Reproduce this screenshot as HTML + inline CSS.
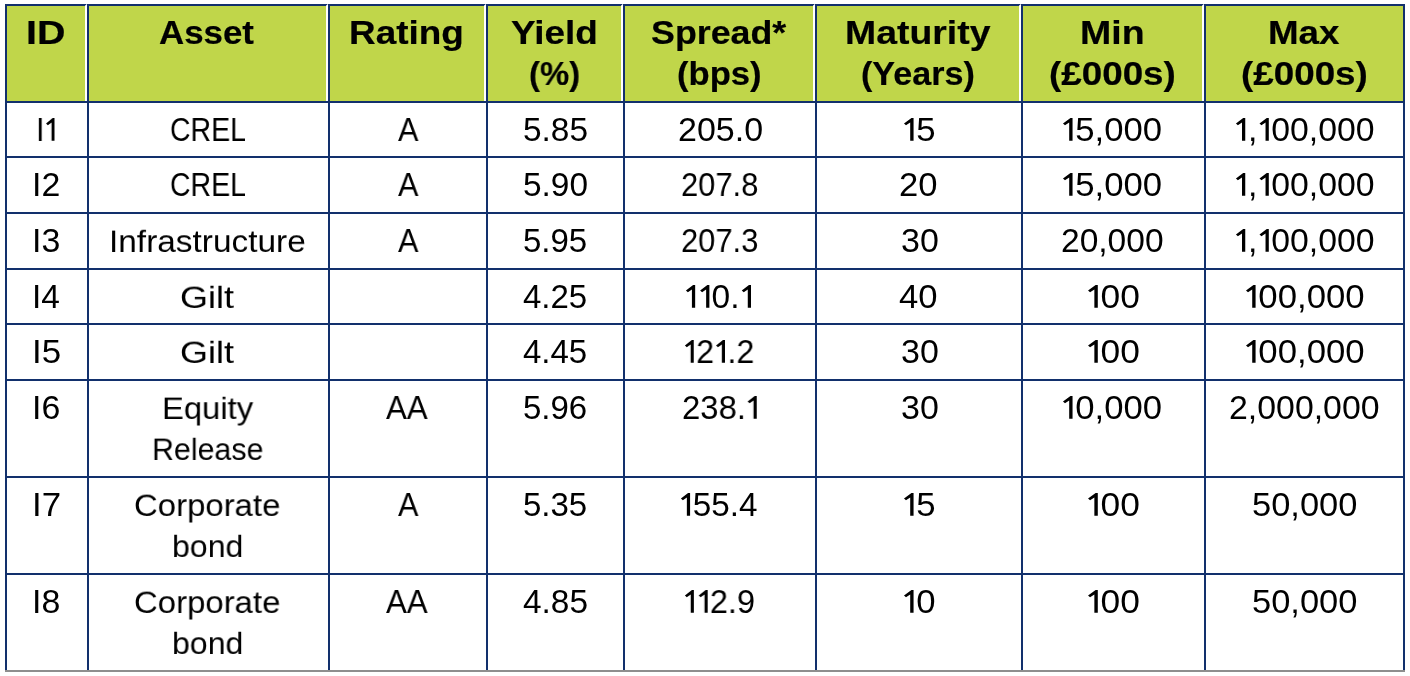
<!DOCTYPE html>
<html><head><meta charset="utf-8"><style>
html,body{margin:0;padding:0;background:#fff;width:1410px;height:676px;overflow:hidden;position:relative}
div{position:absolute}
.l{background:#12306c}
.w{background:#fff}
.t{font-family:"Liberation Sans",sans-serif;color:#000;white-space:nowrap;will-change:transform}
.h{font-weight:bold;font-size:33.7px;line-height:33.7px;-webkit-text-stroke:0.2px #000}
.b{font-size:33.0px;line-height:33.0px;-webkit-text-stroke:0.0px #000}
.o1{display:inline-block;vertical-align:baseline;fill:#000}
</style></head><body>
<div style="left:5px;top:4px;width:1398px;height:97px;background:#C0D64A"></div>
<div class="w" style="left:85px;top:6px;width:2px;height:95px"></div>
<div class="w" style="left:326px;top:6px;width:2px;height:95px"></div>
<div class="w" style="left:484px;top:6px;width:2px;height:95px"></div>
<div class="w" style="left:621px;top:6px;width:2px;height:95px"></div>
<div class="w" style="left:813px;top:6px;width:2px;height:95px"></div>
<div class="w" style="left:1019px;top:6px;width:2px;height:95px"></div>
<div class="w" style="left:1202px;top:6px;width:2px;height:95px"></div>
<div class="t h" id="e0" style="left:25.78px;top:16.30px;transform:scale(1.1700,1.0000);transform-origin:0 28.00px">ID</div>
<div class="t h" id="e1" style="left:158.56px;top:16.30px;transform:scale(1.0341,1.0000);transform-origin:0 28.00px">Asset</div>
<div class="t h" id="e2" style="left:349.39px;top:16.30px;transform:scale(1.0960,1.0000);transform-origin:0 28.00px">Rating</div>
<div class="t h" id="e3" style="left:510.86px;top:16.30px;transform:scale(1.0961,1.0000);transform-origin:0 28.00px">Yield</div>
<div class="t h" id="e4" style="left:529.03px;top:57.00px;transform:scale(0.9740,1.0000);transform-origin:0 28.00px">(%)</div>
<div class="t h" id="e5" style="left:651.14px;top:16.30px;transform:scale(1.0627,1.0000);transform-origin:0 28.00px">Spread*</div>
<div class="t h" id="e6" style="left:677.37px;top:57.00px;transform:scale(1.0275,1.0000);transform-origin:0 28.00px">(bps)</div>
<div class="t h" id="e7" style="left:844.78px;top:16.30px;transform:scale(1.1101,1.0000);transform-origin:0 28.00px">Maturity</div>
<div class="t h" id="e8" style="left:861.18px;top:57.00px;transform:scale(1.0127,1.0000);transform-origin:0 28.00px">(Years)</div>
<div class="t h" id="e9" style="left:1080.18px;top:16.30px;transform:scale(1.1130,1.0000);transform-origin:0 28.00px">Min</div>
<div class="t h" id="e10" style="left:1048.69px;top:57.00px;transform:scale(1.0921,1.0000);transform-origin:0 28.00px">(£000s)</div>
<div class="t h" id="e11" style="left:1268.44px;top:16.30px;transform:scale(1.0905,1.0000);transform-origin:0 28.00px">Max</div>
<div class="t h" id="e12" style="left:1240.53px;top:57.00px;transform:scale(1.0921,1.0000);transform-origin:0 28.00px">(£000s)</div>
<div class="t b" id="e13" style="left:35.80px;top:113.30px;transform:scale(0.9235,1.0000);transform-origin:0 28.00px">I<svg class="o1" width="13.6" height="22.7" viewBox="0 0 13.6 22.7"><path d="M7.8 22.7L7.8 4.4L3.8 7.3L1.9 5.4L9 0L11 0L11 22.7Z"/></svg></div>
<div class="t b" id="e14" style="left:169.71px;top:113.30px;transform:scale(0.8624,1.0000);transform-origin:0 28.00px">CREL</div>
<div class="t b" id="e15" style="left:397.58px;top:113.30px;transform:scale(0.9273,1.0000);transform-origin:0 28.00px">A</div>
<div class="t b" id="e16" style="left:522.98px;top:113.30px;transform:scale(1.0115,1.0000);transform-origin:0 28.00px">5.85</div>
<div class="t b" id="e17" style="left:677.55px;top:113.30px;transform:scale(1.0304,1.0000);transform-origin:0 28.00px">205.0</div>
<div class="t b" id="e18" style="left:901.51px;top:113.30px;transform:scale(1.0517,1.0000);transform-origin:0 28.00px"><svg class="o1" width="13.6" height="22.7" viewBox="0 0 13.6 22.7"><path d="M7.8 22.7L7.8 4.4L3.8 7.3L1.9 5.4L9 0L11 0L11 22.7Z"/></svg>5</div>
<div class="t b" id="e19" style="left:1060.87px;top:113.30px;transform:scale(1.0505,1.0000);transform-origin:0 28.00px"><svg class="o1" width="13.6" height="22.7" viewBox="0 0 13.6 22.7"><path d="M7.8 22.7L7.8 4.4L3.8 7.3L1.9 5.4L9 0L11 0L11 22.7Z"/></svg>5,000</div>
<div class="t b" id="e20" style="left:1233.56px;top:113.30px;transform:scale(1.0239,1.0000);transform-origin:0 28.00px"><svg class="o1" width="13.6" height="22.7" viewBox="0 0 13.6 22.7"><path d="M7.8 22.7L7.8 4.4L3.8 7.3L1.9 5.4L9 0L11 0L11 22.7Z"/></svg>,<svg class="o1" width="13.6" height="22.7" viewBox="0 0 13.6 22.7"><path d="M7.8 22.7L7.8 4.4L3.8 7.3L1.9 5.4L9 0L11 0L11 22.7Z"/></svg>00,000</div>
<div class="t b" id="e21" style="left:32.30px;top:168.30px;transform:scale(1.0261,1.0000);transform-origin:0 28.00px">I2</div>
<div class="t b" id="e22" style="left:169.71px;top:168.30px;transform:scale(0.8624,1.0000);transform-origin:0 28.00px">CREL</div>
<div class="t b" id="e23" style="left:397.58px;top:168.30px;transform:scale(0.9273,1.0000);transform-origin:0 28.00px">A</div>
<div class="t b" id="e24" style="left:522.98px;top:168.30px;transform:scale(1.0115,1.0000);transform-origin:0 28.00px">5.90</div>
<div class="t b" id="e25" style="left:680.53px;top:168.30px;transform:scale(0.9367,1.0000);transform-origin:0 28.00px">207.8</div>
<div class="t b" id="e26" style="left:899.49px;top:168.30px;transform:scale(1.0485,1.0000);transform-origin:0 28.00px">20</div>
<div class="t b" id="e27" style="left:1060.87px;top:168.30px;transform:scale(1.0505,1.0000);transform-origin:0 28.00px"><svg class="o1" width="13.6" height="22.7" viewBox="0 0 13.6 22.7"><path d="M7.8 22.7L7.8 4.4L3.8 7.3L1.9 5.4L9 0L11 0L11 22.7Z"/></svg>5,000</div>
<div class="t b" id="e28" style="left:1233.56px;top:168.30px;transform:scale(1.0239,1.0000);transform-origin:0 28.00px"><svg class="o1" width="13.6" height="22.7" viewBox="0 0 13.6 22.7"><path d="M7.8 22.7L7.8 4.4L3.8 7.3L1.9 5.4L9 0L11 0L11 22.7Z"/></svg>,<svg class="o1" width="13.6" height="22.7" viewBox="0 0 13.6 22.7"><path d="M7.8 22.7L7.8 4.4L3.8 7.3L1.9 5.4L9 0L11 0L11 22.7Z"/></svg>00,000</div>
<div class="t b" id="e29" style="left:32.30px;top:224.30px;transform:scale(1.0261,1.0000);transform-origin:0 28.00px">I3</div>
<div class="t b" id="e30" style="left:109.35px;top:224.30px;transform:scale(1.0121,0.9300);transform-origin:0 28.00px">Infrastructure</div>
<div class="t b" id="e31" style="left:397.58px;top:224.30px;transform:scale(0.9273,1.0000);transform-origin:0 28.00px">A</div>
<div class="t b" id="e32" style="left:523.00px;top:224.30px;transform:scale(1.0000,1.0000);transform-origin:0 28.00px">5.95</div>
<div class="t b" id="e33" style="left:680.53px;top:224.30px;transform:scale(0.9367,1.0000);transform-origin:0 28.00px">207.3</div>
<div class="t b" id="e34" style="left:900.77px;top:224.30px;transform:scale(1.0294,1.0000);transform-origin:0 28.00px">30</div>
<div class="t b" id="e35" style="left:1061.16px;top:224.30px;transform:scale(1.0163,1.0000);transform-origin:0 28.00px">20,000</div>
<div class="t b" id="e36" style="left:1233.56px;top:224.30px;transform:scale(1.0239,1.0000);transform-origin:0 28.00px"><svg class="o1" width="13.6" height="22.7" viewBox="0 0 13.6 22.7"><path d="M7.8 22.7L7.8 4.4L3.8 7.3L1.9 5.4L9 0L11 0L11 22.7Z"/></svg>,<svg class="o1" width="13.6" height="22.7" viewBox="0 0 13.6 22.7"><path d="M7.8 22.7L7.8 4.4L3.8 7.3L1.9 5.4L9 0L11 0L11 22.7Z"/></svg>00,000</div>
<div class="t b" id="e37" style="left:32.35px;top:280.30px;transform:scale(1.0125,1.0000);transform-origin:0 28.00px">I4</div>
<div class="t b" id="e38" style="left:180.18px;top:280.30px;transform:scale(1.0915,0.9300);transform-origin:0 28.00px">Gilt</div>
<div class="t b" id="e39" style="left:523.00px;top:280.30px;transform:scale(1.0000,1.0000);transform-origin:0 28.00px">4.25</div>
<div class="t b" id="e40" style="left:684.35px;top:280.30px;transform:scale(1.0156,1.0000);transform-origin:0 28.00px"><svg class="o1" width="13.6" height="22.7" viewBox="0 0 13.6 22.7"><path d="M7.8 22.7L7.8 4.4L3.8 7.3L1.9 5.4L9 0L11 0L11 22.7Z"/></svg><svg class="o1" width="13.6" height="22.7" viewBox="0 0 13.6 22.7"><path d="M7.8 22.7L7.8 4.4L3.8 7.3L1.9 5.4L9 0L11 0L11 22.7Z"/></svg>0.<svg class="o1" width="13.6" height="22.7" viewBox="0 0 13.6 22.7"><path d="M7.8 22.7L7.8 4.4L3.8 7.3L1.9 5.4L9 0L11 0L11 22.7Z"/></svg></div>
<div class="t b" id="e41" style="left:899.32px;top:280.30px;transform:scale(1.0500,1.0000);transform-origin:0 28.00px">40</div>
<div class="t b" id="e42" style="left:1085.64px;top:280.30px;transform:scale(1.0723,1.0000);transform-origin:0 28.00px"><svg class="o1" width="13.6" height="22.7" viewBox="0 0 13.6 22.7"><path d="M7.8 22.7L7.8 4.4L3.8 7.3L1.9 5.4L9 0L11 0L11 22.7Z"/></svg>00</div>
<div class="t b" id="e43" style="left:1243.71px;top:280.30px;transform:scale(1.0532,1.0000);transform-origin:0 28.00px"><svg class="o1" width="13.6" height="22.7" viewBox="0 0 13.6 22.7"><path d="M7.8 22.7L7.8 4.4L3.8 7.3L1.9 5.4L9 0L11 0L11 22.7Z"/></svg>00,000</div>
<div class="t b" id="e44" style="left:32.20px;top:335.30px;transform:scale(1.0565,1.0000);transform-origin:0 28.00px">I5</div>
<div class="t b" id="e45" style="left:180.18px;top:335.30px;transform:scale(1.0915,0.9300);transform-origin:0 28.00px">Gilt</div>
<div class="t b" id="e46" style="left:523.00px;top:335.30px;transform:scale(1.0000,1.0000);transform-origin:0 28.00px">4.45</div>
<div class="t b" id="e47" style="left:683.05px;top:335.30px;transform:scale(0.9757,1.0000);transform-origin:0 28.00px"><svg class="o1" width="13.6" height="22.7" viewBox="0 0 13.6 22.7"><path d="M7.8 22.7L7.8 4.4L3.8 7.3L1.9 5.4L9 0L11 0L11 22.7Z"/></svg>2<svg class="o1" width="13.6" height="22.7" viewBox="0 0 13.6 22.7"><path d="M7.8 22.7L7.8 4.4L3.8 7.3L1.9 5.4L9 0L11 0L11 22.7Z"/></svg>.2</div>
<div class="t b" id="e48" style="left:900.77px;top:335.30px;transform:scale(1.0294,1.0000);transform-origin:0 28.00px">30</div>
<div class="t b" id="e49" style="left:1085.64px;top:335.30px;transform:scale(1.0723,1.0000);transform-origin:0 28.00px"><svg class="o1" width="13.6" height="22.7" viewBox="0 0 13.6 22.7"><path d="M7.8 22.7L7.8 4.4L3.8 7.3L1.9 5.4L9 0L11 0L11 22.7Z"/></svg>00</div>
<div class="t b" id="e50" style="left:1243.71px;top:335.30px;transform:scale(1.0532,1.0000);transform-origin:0 28.00px"><svg class="o1" width="13.6" height="22.7" viewBox="0 0 13.6 22.7"><path d="M7.8 22.7L7.8 4.4L3.8 7.3L1.9 5.4L9 0L11 0L11 22.7Z"/></svg>00,000</div>
<div class="t b" id="e51" style="left:32.30px;top:391.30px;transform:scale(1.0261,1.0000);transform-origin:0 28.00px">I6</div>
<div class="t b" id="e52" style="left:161.62px;top:391.30px;transform:scale(0.9933,0.9300);transform-origin:0 28.00px">Equity</div>
<div class="t b" id="e53" style="left:152.24px;top:432.00px;transform:scale(0.9205,0.9300);transform-origin:0 28.00px">Release</div>
<div class="t b" id="e54" style="left:386.40px;top:391.30px;transform:scale(0.9455,1.0000);transform-origin:0 28.00px">AA</div>
<div class="t b" id="e55" style="left:523.00px;top:391.30px;transform:scale(1.0000,1.0000);transform-origin:0 28.00px">5.96</div>
<div class="t b" id="e56" style="left:681.60px;top:391.30px;transform:scale(0.9959,1.0000);transform-origin:0 28.00px">238.<svg class="o1" width="13.6" height="22.7" viewBox="0 0 13.6 22.7"><path d="M7.8 22.7L7.8 4.4L3.8 7.3L1.9 5.4L9 0L11 0L11 22.7Z"/></svg></div>
<div class="t b" id="e57" style="left:900.77px;top:391.30px;transform:scale(1.0294,1.0000);transform-origin:0 28.00px">30</div>
<div class="t b" id="e58" style="left:1060.87px;top:391.30px;transform:scale(1.0505,1.0000);transform-origin:0 28.00px"><svg class="o1" width="13.6" height="22.7" viewBox="0 0 13.6 22.7"><path d="M7.8 22.7L7.8 4.4L3.8 7.3L1.9 5.4L9 0L11 0L11 22.7Z"/></svg>0,000</div>
<div class="t b" id="e59" style="left:1228.75px;top:391.30px;transform:scale(1.0257,1.0000);transform-origin:0 28.00px">2,000,000</div>
<div class="t b" id="e60" style="left:32.20px;top:488.30px;transform:scale(1.0565,1.0000);transform-origin:0 28.00px">I7</div>
<div class="t b" id="e61" style="left:134.39px;top:488.30px;transform:scale(0.9972,0.9300);transform-origin:0 28.00px">Corporate</div>
<div class="t b" id="e62" style="left:172.26px;top:529.00px;transform:scale(0.9725,0.9300);transform-origin:0 28.00px">bond</div>
<div class="t b" id="e63" style="left:397.58px;top:488.30px;transform:scale(0.9273,1.0000);transform-origin:0 28.00px">A</div>
<div class="t b" id="e64" style="left:523.00px;top:488.30px;transform:scale(1.0000,1.0000);transform-origin:0 28.00px">5.35</div>
<div class="t b" id="e65" style="left:679.37px;top:488.30px;transform:scale(1.0080,1.0000);transform-origin:0 28.00px"><svg class="o1" width="13.6" height="22.7" viewBox="0 0 13.6 22.7"><path d="M7.8 22.7L7.8 4.4L3.8 7.3L1.9 5.4L9 0L11 0L11 22.7Z"/></svg>55.4</div>
<div class="t b" id="e66" style="left:901.51px;top:488.30px;transform:scale(1.0517,1.0000);transform-origin:0 28.00px"><svg class="o1" width="13.6" height="22.7" viewBox="0 0 13.6 22.7"><path d="M7.8 22.7L7.8 4.4L3.8 7.3L1.9 5.4L9 0L11 0L11 22.7Z"/></svg>5</div>
<div class="t b" id="e67" style="left:1085.64px;top:488.30px;transform:scale(1.0723,1.0000);transform-origin:0 28.00px"><svg class="o1" width="13.6" height="22.7" viewBox="0 0 13.6 22.7"><path d="M7.8 22.7L7.8 4.4L3.8 7.3L1.9 5.4L9 0L11 0L11 22.7Z"/></svg>00</div>
<div class="t b" id="e68" style="left:1251.52px;top:488.30px;transform:scale(1.0439,1.0000);transform-origin:0 28.00px">50,000</div>
<div class="t b" id="e69" style="left:32.30px;top:585.30px;transform:scale(1.0261,1.0000);transform-origin:0 28.00px">I8</div>
<div class="t b" id="e70" style="left:134.39px;top:585.30px;transform:scale(0.9972,0.9300);transform-origin:0 28.00px">Corporate</div>
<div class="t b" id="e71" style="left:172.26px;top:626.00px;transform:scale(0.9725,0.9300);transform-origin:0 28.00px">bond</div>
<div class="t b" id="e72" style="left:386.40px;top:585.30px;transform:scale(0.9455,1.0000);transform-origin:0 28.00px">AA</div>
<div class="t b" id="e73" style="left:522.99px;top:585.30px;transform:scale(1.0113,1.0000);transform-origin:0 28.00px">4.85</div>
<div class="t b" id="e74" style="left:683.03px;top:585.30px;transform:scale(0.9857,1.0000);transform-origin:0 28.00px"><svg class="o1" width="13.6" height="22.7" viewBox="0 0 13.6 22.7"><path d="M7.8 22.7L7.8 4.4L3.8 7.3L1.9 5.4L9 0L11 0L11 22.7Z"/></svg><svg class="o1" width="13.6" height="22.7" viewBox="0 0 13.6 22.7"><path d="M7.8 22.7L7.8 4.4L3.8 7.3L1.9 5.4L9 0L11 0L11 22.7Z"/></svg>2.9</div>
<div class="t b" id="e75" style="left:901.51px;top:585.30px;transform:scale(1.0517,1.0000);transform-origin:0 28.00px"><svg class="o1" width="13.6" height="22.7" viewBox="0 0 13.6 22.7"><path d="M7.8 22.7L7.8 4.4L3.8 7.3L1.9 5.4L9 0L11 0L11 22.7Z"/></svg>0</div>
<div class="t b" id="e76" style="left:1085.64px;top:585.30px;transform:scale(1.0723,1.0000);transform-origin:0 28.00px"><svg class="o1" width="13.6" height="22.7" viewBox="0 0 13.6 22.7"><path d="M7.8 22.7L7.8 4.4L3.8 7.3L1.9 5.4L9 0L11 0L11 22.7Z"/></svg>00</div>
<div class="t b" id="e77" style="left:1251.52px;top:585.30px;transform:scale(1.0439,1.0000);transform-origin:0 28.00px">50,000</div>
<div class="l" style="left:5px;top:4px;width:2px;height:666px"></div>
<div class="l" style="left:87px;top:4px;width:2px;height:666px"></div>
<div class="l" style="left:328px;top:4px;width:2px;height:666px"></div>
<div class="l" style="left:486px;top:4px;width:2px;height:666px"></div>
<div class="l" style="left:623px;top:4px;width:2px;height:666px"></div>
<div class="l" style="left:815px;top:4px;width:2px;height:666px"></div>
<div class="l" style="left:1021px;top:4px;width:2px;height:666px"></div>
<div class="l" style="left:1204px;top:4px;width:2px;height:666px"></div>
<div class="l" style="left:1403px;top:4px;width:2px;height:666px"></div>
<div class="l" style="left:5px;top:4px;width:1400px;height:2px"></div>
<div class="l" style="left:5px;top:101px;width:1400px;height:2px"></div>
<div class="l" style="left:5px;top:156px;width:1400px;height:2px"></div>
<div class="l" style="left:5px;top:212px;width:1400px;height:2px"></div>
<div class="l" style="left:5px;top:268px;width:1400px;height:2px"></div>
<div class="l" style="left:5px;top:323px;width:1400px;height:2px"></div>
<div class="l" style="left:5px;top:379px;width:1400px;height:2px"></div>
<div class="l" style="left:5px;top:476px;width:1400px;height:2px"></div>
<div class="l" style="left:5px;top:573px;width:1400px;height:2px"></div>
<div style="left:86px;top:4px;width:1px;height:1px;background:#b8c2d6"></div>
<div style="left:85px;top:5px;width:1px;height:1px;background:#c8d0de"></div>
<div style="left:86px;top:5px;width:1px;height:1px;background:#fff"></div>
<div style="left:327px;top:4px;width:1px;height:1px;background:#b8c2d6"></div>
<div style="left:326px;top:5px;width:1px;height:1px;background:#c8d0de"></div>
<div style="left:327px;top:5px;width:1px;height:1px;background:#fff"></div>
<div style="left:485px;top:4px;width:1px;height:1px;background:#b8c2d6"></div>
<div style="left:484px;top:5px;width:1px;height:1px;background:#c8d0de"></div>
<div style="left:485px;top:5px;width:1px;height:1px;background:#fff"></div>
<div style="left:622px;top:4px;width:1px;height:1px;background:#b8c2d6"></div>
<div style="left:621px;top:5px;width:1px;height:1px;background:#c8d0de"></div>
<div style="left:622px;top:5px;width:1px;height:1px;background:#fff"></div>
<div style="left:814px;top:4px;width:1px;height:1px;background:#b8c2d6"></div>
<div style="left:813px;top:5px;width:1px;height:1px;background:#c8d0de"></div>
<div style="left:814px;top:5px;width:1px;height:1px;background:#fff"></div>
<div style="left:1020px;top:4px;width:1px;height:1px;background:#b8c2d6"></div>
<div style="left:1019px;top:5px;width:1px;height:1px;background:#c8d0de"></div>
<div style="left:1020px;top:5px;width:1px;height:1px;background:#fff"></div>
<div style="left:1203px;top:4px;width:1px;height:1px;background:#b8c2d6"></div>
<div style="left:1202px;top:5px;width:1px;height:1px;background:#c8d0de"></div>
<div style="left:1203px;top:5px;width:1px;height:1px;background:#fff"></div>
<div style="left:5px;top:670px;width:1400px;height:2px;background:#8e8e8e"></div>
</body></html>
